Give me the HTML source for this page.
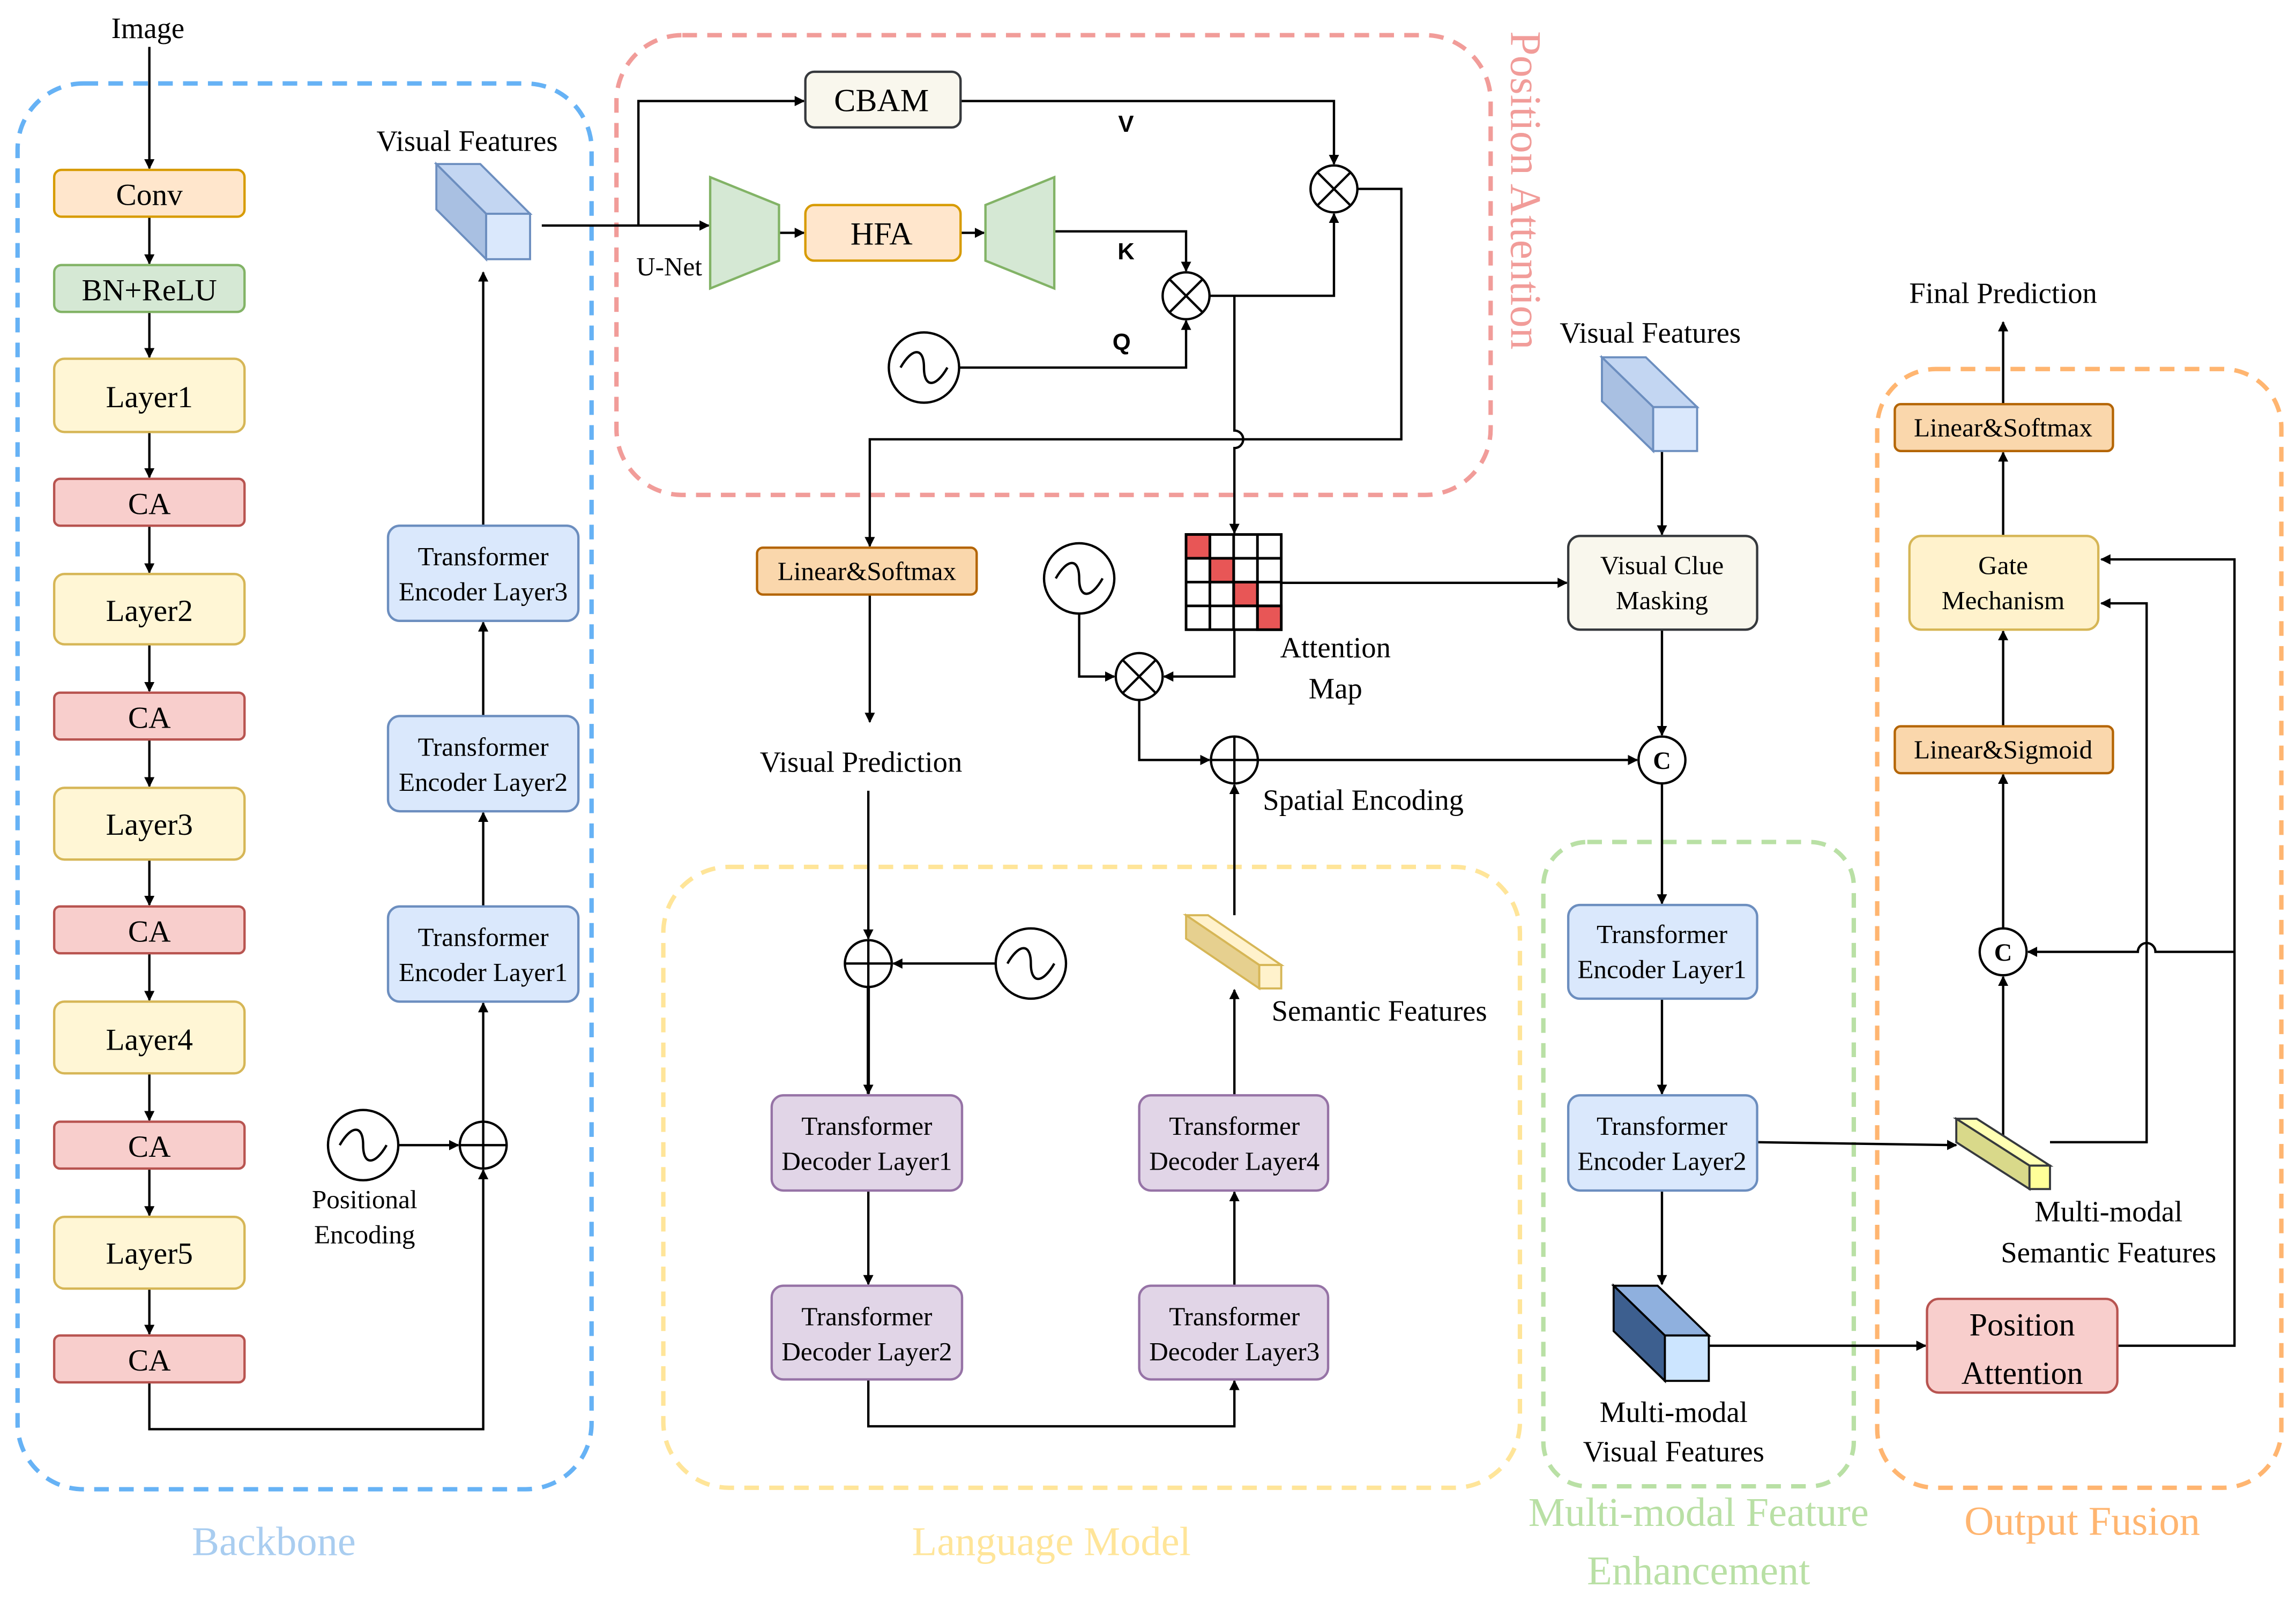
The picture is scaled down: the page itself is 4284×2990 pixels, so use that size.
<!DOCTYPE html>
<html><head><meta charset="utf-8"><style>html,body{margin:0;padding:0;background:#fff}svg{display:block}</style></head>
<body>
<svg xmlns="http://www.w3.org/2000/svg" width="4284" height="2990" viewBox="0 0 1568 1094" preserveAspectRatio="none" font-family="'Liberation Serif',serif">
<defs>
<marker id="a" viewBox="0 0 10 10" refX="9" refY="5" markerWidth="7" markerHeight="7" orient="auto" markerUnits="userSpaceOnUse"><path d="M0,0 L10,5 L0,10 z" fill="#000"/></marker>
</defs>
<rect width="1568" height="1094" fill="#fff"/>

<g fill="none" stroke-width="3" stroke-dasharray="10,7">
<rect x="12" y="57" width="392" height="960" rx="45" stroke="#66b2f5"/>
<rect x="421" y="24" width="597" height="314" rx="45" stroke="#f19c99"/>
<rect x="453" y="592" width="585" height="424" rx="45" stroke="#ffe599"/>
<rect x="1054" y="575" width="212" height="440" rx="30" stroke="#b9e0a5"/>
<rect x="1282" y="252" width="276" height="764" rx="40" stroke="#ffb570"/>
</g>
<g font-size="28" text-anchor="middle">
<text x="187" y="1062" fill="#a9cdf0">Backbone</text>
<text x="718" y="1062" fill="#ffe599">Language Model</text>
<text x="1160" y="1042" fill="#b9e0a5">Multi-modal Feature</text>
<text x="1160" y="1082" fill="#b9e0a5">Enhancement</text>
<text x="1422" y="1048" fill="#ffb570">Output Fusion</text>
<text transform="translate(1032,130) rotate(90)" fill="#f19c99" font-size="30">Position Attention</text>
</g>

<g stroke="#000" stroke-width="1.6" fill="none">
<line x1="102" y1="32" x2="102" y2="115" marker-end="url(#a)"/>
<line x1="102" y1="148" x2="102" y2="180" marker-end="url(#a)"/>
<line x1="102" y1="213" x2="102" y2="244" marker-end="url(#a)"/>
<line x1="102" y1="295" x2="102" y2="326" marker-end="url(#a)"/>
<line x1="102" y1="359" x2="102" y2="391" marker-end="url(#a)"/>
<line x1="102" y1="440" x2="102" y2="472" marker-end="url(#a)"/>
<line x1="102" y1="505" x2="102" y2="537" marker-end="url(#a)"/>
<line x1="102" y1="587" x2="102" y2="618" marker-end="url(#a)"/>
<line x1="102" y1="651" x2="102" y2="683" marker-end="url(#a)"/>
<line x1="102" y1="733" x2="102" y2="765" marker-end="url(#a)"/>
<line x1="102" y1="798" x2="102" y2="830" marker-end="url(#a)"/>
<line x1="102" y1="880" x2="102" y2="911" marker-end="url(#a)"/>
<polyline points="102,944 102,976 330,976 330,799" marker-end="url(#a)"/>
<line x1="272" y1="782" x2="313" y2="782" marker-end="url(#a)"/>
<line x1="330" y1="766" x2="330" y2="685" marker-end="url(#a)"/>
<line x1="330" y1="619" x2="330" y2="555" marker-end="url(#a)"/>
<line x1="330" y1="489" x2="330" y2="425" marker-end="url(#a)"/>
<line x1="330" y1="359" x2="330" y2="186" marker-end="url(#a)"/>
<line x1="370" y1="154" x2="484" y2="154" marker-end="url(#a)"/>
<polyline points="436,154 436,69 549,69" marker-end="url(#a)"/>
<line x1="532" y1="159" x2="549" y2="159" marker-end="url(#a)"/>
<line x1="656" y1="159" x2="672" y2="159" marker-end="url(#a)"/>
<polyline points="720,158 810,158 810,185" marker-end="url(#a)"/>
<polyline points="656,69 911,69 911,112" marker-end="url(#a)"/>
<polyline points="655,251 810,251 810,219" marker-end="url(#a)"/>
<polyline points="826,202 911,202 911,146" marker-end="url(#a)"/>
<path d="M843,202 L843,294 A6,6 0 0 1 843,306 L843,364" marker-end="url(#a)"/>
<polyline points="927,129 957,129 957,300 594,300 594,373" marker-end="url(#a)"/>
<line x1="594" y1="406" x2="594" y2="493" marker-end="url(#a)"/>
<line x1="593" y1="540" x2="593" y2="641" marker-end="url(#a)"/>
<line x1="680" y1="658" x2="610" y2="658" marker-end="url(#a)"/>
<line x1="593" y1="674" x2="593" y2="747" stroke-width="2.2" marker-end="url(#a)"/>
<line x1="593" y1="813" x2="593" y2="877" marker-end="url(#a)"/>
<polyline points="593,942 593,974 843,974 843,943" marker-end="url(#a)"/>
<line x1="843" y1="878" x2="843" y2="814" marker-end="url(#a)"/>
<line x1="843" y1="748" x2="843" y2="676" marker-end="url(#a)"/>
<line x1="843" y1="625" x2="843" y2="536" marker-end="url(#a)"/>
<line x1="875" y1="398" x2="1070" y2="398" marker-end="url(#a)"/>
<polyline points="843,430 843,462 795,462" marker-end="url(#a)"/>
<polyline points="737,419 737,462 761,462" marker-end="url(#a)"/>
<polyline points="778,478 778,519 826,519" marker-end="url(#a)"/>
<line x1="859" y1="519" x2="1118" y2="519" marker-end="url(#a)"/>
<line x1="1135" y1="308" x2="1135" y2="365" marker-end="url(#a)"/>
<line x1="1135" y1="430" x2="1135" y2="502" marker-end="url(#a)"/>
<line x1="1135" y1="535" x2="1135" y2="617" marker-end="url(#a)"/>
<line x1="1135" y1="682" x2="1135" y2="747" marker-end="url(#a)"/>
<line x1="1135" y1="813" x2="1135" y2="877" marker-end="url(#a)"/>
<line x1="1200" y1="780" x2="1336" y2="782" marker-end="url(#a)"/>
<line x1="1167" y1="919" x2="1315" y2="919" marker-end="url(#a)"/>
<polyline points="1446,919 1526,919 1526,382 1435,382" marker-end="url(#a)"/>
<polyline points="1400,780 1466,780 1466,412 1435,412" marker-end="url(#a)"/>
<path d="M1526,650 L1472,650 A6,6 0 0 0 1460,650 L1385,650" marker-end="url(#a)"/>
<line x1="1368" y1="776" x2="1368" y2="667" marker-end="url(#a)"/>
<line x1="1368" y1="634" x2="1368" y2="529" marker-end="url(#a)"/>
<line x1="1368" y1="496" x2="1368" y2="431" marker-end="url(#a)"/>
<line x1="1368" y1="366" x2="1368" y2="309" marker-end="url(#a)"/>
<line x1="1368" y1="276" x2="1368" y2="220" marker-end="url(#a)"/>
</g>

<g stroke-width="1.6">
<rect x="37" y="116" width="130" height="32" rx="5" fill="#ffe6cc" stroke="#d79b00"/>
<rect x="37" y="181" width="130" height="32" rx="5" fill="#d5e8d4" stroke="#82b366"/>
<g fill="#fff6d5" stroke="#d6b656">
<rect x="37" y="245" width="130" height="50" rx="7"/>
<rect x="37" y="392" width="130" height="48" rx="7"/>
<rect x="37" y="538" width="130" height="49" rx="7"/>
<rect x="37" y="684" width="130" height="49" rx="7"/>
<rect x="37" y="831" width="130" height="49" rx="7"/>
</g>
<g fill="#f8cecc" stroke="#b85450">
<rect x="37" y="327" width="130" height="32" rx="4"/>
<rect x="37" y="473" width="130" height="32" rx="4"/>
<rect x="37" y="619" width="130" height="32" rx="4"/>
<rect x="37" y="766" width="130" height="32" rx="4"/>
<rect x="37" y="912" width="130" height="32" rx="4"/>
<rect x="1316" y="887" width="130" height="64" rx="8"/>
</g>
<g fill="#dae8fc" stroke="#6c8ebf">
<rect x="265" y="359" width="130" height="65" rx="8"/>
<rect x="265" y="489" width="130" height="65" rx="8"/>
<rect x="265" y="619" width="130" height="65" rx="8"/>
<rect x="1071" y="618" width="129" height="64" rx="8"/>
<rect x="1071" y="748" width="129" height="65" rx="8"/>
</g>
<g fill="#e1d5e7" stroke="#9673a6">
<rect x="527" y="748" width="130" height="65" rx="8"/>
<rect x="527" y="878" width="130" height="64" rx="8"/>
<rect x="778" y="748" width="129" height="65" rx="8"/>
<rect x="778" y="878" width="129" height="64" rx="8"/>
</g>
<rect x="550" y="49" width="106" height="38" rx="6" fill="#f9f7ed" stroke="#36393d"/>
<rect x="550" y="140" width="106" height="38" rx="6" fill="#ffe6cc" stroke="#d79b00"/>
<polygon points="485,121 532,140 532,178 485,197" fill="#d5e8d4" stroke="#82b366"/>
<polygon points="673,140 720,121 720,197 673,178" fill="#d5e8d4" stroke="#82b366"/>
<rect x="517" y="374" width="150" height="32" rx="4" fill="#fad7ac" stroke="#b46504"/>
<rect x="1294" y="276" width="149" height="32" rx="4" fill="#fad7ac" stroke="#b46504"/>
<rect x="1294" y="496" width="149" height="32" rx="4" fill="#fad7ac" stroke="#b46504"/>
<rect x="1304" y="366" width="129" height="64" rx="8" fill="#fff2cc" stroke="#d6b656"/>
<rect x="1071" y="366" width="129" height="64" rx="8" fill="#f9f7ed" stroke="#36393d"/>
</g>

<g stroke="#000" stroke-width="1.8">
<rect x="810" y="365" width="65" height="65" fill="#fff"/>
<rect x="810" y="365" width="16.25" height="16.25" fill="#e85656"/>
<rect x="826.25" y="381.25" width="16.25" height="16.25" fill="#e85656"/>
<rect x="842.5" y="397.5" width="16.25" height="16.25" fill="#e85656"/>
<rect x="858.75" y="413.75" width="16.25" height="16.25" fill="#e85656"/>
<path d="M826.25,365V430M842.5,365V430M858.75,365V430M810,381.25H875M810,397.5H875M810,413.75H875" fill="none"/>
</g>

<g stroke="#6c8ebf" stroke-width="1.4">
<g transform="translate(298,112)"><polygon points="0,0 30,0 64,34 34,34" fill="#c3d6f2"/><polygon points="0,0 34,34 34,65 0,31" fill="#a9c0e2"/><rect x="34" y="34" width="30" height="31" fill="#dae8fc"/></g>
<g transform="translate(1094,244)"><polygon points="0,0 30,0 65,34 35,34" fill="#c3d6f2"/><polygon points="0,0 35,34 35,64 0,30" fill="#a9c0e2"/><rect x="35" y="34" width="30" height="30" fill="#dae8fc"/></g>
</g>
<g transform="translate(1102,878)" stroke="#000" stroke-width="1.4"><polygon points="0,0 30,0 65,34 35,34" fill="#8fb0de"/><polygon points="0,0 35,34 35,65 0,31" fill="#3d5f8f"/><rect x="35" y="34" width="30" height="31" fill="#cce5ff"/></g>
<g transform="translate(810,625)" stroke="#d6b656" stroke-width="1.4"><polygon points="0,0 15,0 65,34 50,34" fill="#fff2cc"/><polygon points="0,0 50,34 50,50 0,16" fill="#e6d08f"/><rect x="50" y="34" width="15" height="16" fill="#fff2cc"/></g>
<g transform="translate(1336,764)" stroke="#36393d" stroke-width="1.4"><polygon points="0,0 14,0 64,32 50,32" fill="#ffffb3"/><polygon points="0,0 50,32 50,48 0,16" fill="#d9d98a"/><rect x="50" y="32" width="14" height="16" fill="#ffff99"/></g>

<g stroke="#000" stroke-width="1.6" fill="#fff">
<circle cx="248" cy="782" r="24"/><circle cx="631" cy="251" r="24"/><circle cx="704" cy="658" r="24"/><circle cx="737" cy="395" r="24"/>
<circle cx="330" cy="782" r="16"/><circle cx="593" cy="658" r="16"/><circle cx="843" cy="519" r="16"/>
<circle cx="810" cy="202" r="16"/><circle cx="911" cy="129" r="16"/><circle cx="778" cy="462" r="16"/>
<circle cx="1135" cy="519" r="16"/><circle cx="1368" cy="650" r="16"/>
</g>
<g stroke="#000" stroke-width="1.6" fill="none">
<path d="M232,782 C240,768 248,768 248,782 C248,796 256,796 264,782"/>
<path d="M615,251 C623,237 631,237 631,251 C631,265 639,265 647,251"/>
<path d="M688,658 C696,644 704,644 704,658 C704,672 712,672 720,658"/>
<path d="M721,395 C729,381 737,381 737,395 C737,409 745,409 753,395"/>
<path d="M314,782H346M330,766V798M577,658H609M593,642V674M827,519H859M843,503V535"/>
<path d="M799,191L821,213M821,191L799,213M900,118L922,140M922,118L900,140M767,451L789,473M789,451L767,473"/>
</g>
<g font-size="17" font-weight="bold" text-anchor="middle"><text x="1135" y="525">C</text><text x="1368" y="656">C</text></g>

<g font-size="21" text-anchor="middle" fill="#000">
<text x="101" y="26" font-size="20">Image</text>
<text x="102" y="140">Conv</text><text x="102" y="205">BN+ReLU</text>
<text x="102" y="278">Layer1</text><text x="102" y="424">Layer2</text><text x="102" y="570">Layer3</text><text x="102" y="717">Layer4</text><text x="102" y="863">Layer5</text>
<text x="102" y="351">CA</text><text x="102" y="497">CA</text><text x="102" y="643">CA</text><text x="102" y="790">CA</text><text x="102" y="936">CA</text>
<text x="319" y="103" font-size="20">Visual Features</text>
<text x="602" y="76" font-size="22">CBAM</text><text x="602" y="167" font-size="22">HFA</text>
<text x="1127" y="234" font-size="20">Visual Features</text>
<text x="1368" y="207" font-size="20">Final Prediction</text>
<text x="588" y="527" font-size="20">Visual Prediction</text>
<text x="931" y="553" font-size="20">Spatial Encoding</text>
<text x="942" y="697" font-size="20">Semantic Features</text>
<text x="912" y="449" font-size="20">Attention</text><text x="912" y="477" font-size="20">Map</text>
<text x="1143" y="971" font-size="20">Multi-modal</text><text x="1143" y="998" font-size="20">Visual Features</text>
<text x="1440" y="834" font-size="20">Multi-modal</text><text x="1440" y="862" font-size="20">Semantic Features</text>
<text x="1381" y="912" font-size="22">Position</text><text x="1381" y="945" font-size="22">Attention</text>
</g>
<g font-size="18" text-anchor="middle">
<text x="249" y="825">Positional</text><text x="249" y="849">Encoding</text>
<text x="457" y="188">U-Net</text>
<text x="330" y="386">Transformer</text><text x="330" y="410">Encoder Layer3</text>
<text x="330" y="516">Transformer</text><text x="330" y="540">Encoder Layer2</text>
<text x="330" y="646">Transformer</text><text x="330" y="670">Encoder Layer1</text>
<text x="1135" y="644">Transformer</text><text x="1135" y="668">Encoder Layer1</text>
<text x="1135" y="775">Transformer</text><text x="1135" y="799">Encoder Layer2</text>
<text x="592" y="775">Transformer</text><text x="592" y="799">Decoder Layer1</text>
<text x="592" y="905">Transformer</text><text x="592" y="929">Decoder Layer2</text>
<text x="843" y="775">Transformer</text><text x="843" y="799">Decoder Layer4</text>
<text x="843" y="905">Transformer</text><text x="843" y="929">Decoder Layer3</text>
<text x="592" y="396">Linear&amp;Softmax</text>
<text x="1368" y="298">Linear&amp;Softmax</text>
<text x="1368" y="518">Linear&amp;Sigmoid</text>
<text x="1368" y="392">Gate</text><text x="1368" y="416">Mechanism</text>
<text x="1135" y="392">Visual Clue</text><text x="1135" y="416">Masking</text>
</g>
<g font-family="'Liberation Sans',sans-serif" font-weight="bold" font-size="16" text-anchor="middle">
<text x="769" y="90">V</text><text x="769" y="177">K</text><text x="766" y="239">Q</text>
</g>
</svg>
</body></html>
